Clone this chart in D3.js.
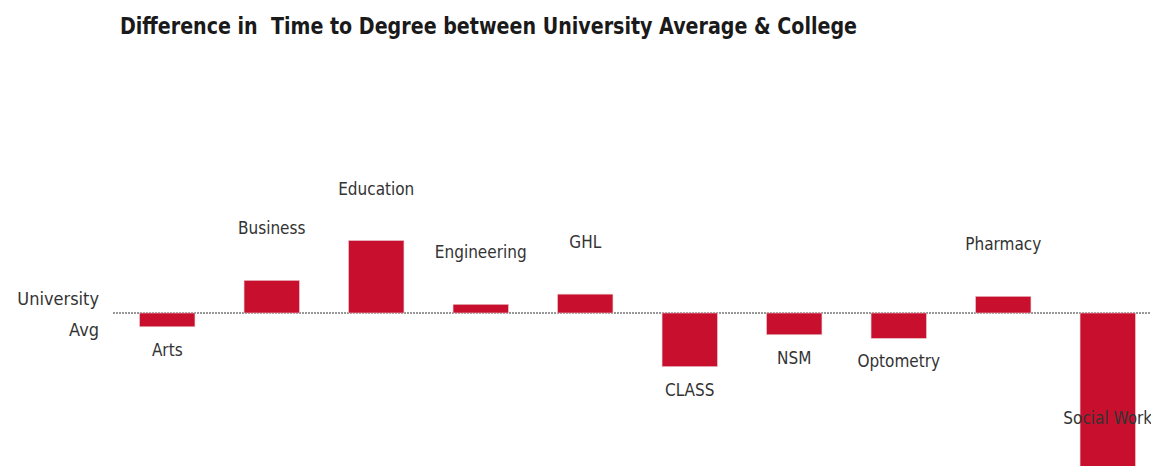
<!DOCTYPE html>
<html>
<head>
<meta charset="utf-8">
<script src="https://cdn.jsdelivr.net/npm/d3@7"></script>
<style>
  body { margin: 0; background: #fff; }
  svg { display: block; }
  .title { font-family: "Liberation Sans Narrow", "DejaVu Sans Condensed", sans-serif; font-weight: bold; fill: #1a1a1a; white-space: pre; }
  .lbl { font-family: "Liberation Sans Narrow", "DejaVu Sans Condensed", sans-serif; fill: #333; }
</style>
</head>
<body>
<svg id="chart" width="1151" height="466"></svg>
<script>
// colleges in display order
const colleges = ['Arts', 'Business', 'Education', 'Engineering', 'GHL',
  'CLASS', 'NSM', 'Optometry', 'Pharmacy', 'Social Work']
// difference from university average (years, estimated)
const diffs = [-0.19, 0.45, 1.0, 0.12, 0.26, -0.74, -0.30, -0.35, 0.23, -2.4]
const titleText = 'Difference in  Time to Degree between University Average & College'
const axisLabel = ['University', 'Avg']

const width = 1151, height = 466
const svg = d3.select('#chart')

const xScale = d3.scaleBand()
  .domain(colleges)
  .range([115, 1160])
  .paddingInner(0.47)
  .paddingOuter(0.235)

const yScale = d3.scaleLinear()
  .domain([-2.12, 1.0])
  .range([466.7, 240.5])

const y0 = yScale(0)

svg.append('text')
  .attr('class', 'title')
  .attr('x', 120)
  .attr('y', 34)
  .attr('textLength', 737)
  .attr('lengthAdjust', 'spacingAndGlyphs')
  .style('font-size', '23px')
  .text(titleText)

// reference line at the university average
svg.append('line')
  .attr('x1', 113).attr('x2', width)
  .attr('y1', y0).attr('y2', y0)
  .attr('stroke', '#777')
  .attr('stroke-width', 1.3)
  .attr('stroke-dasharray', '2,1')

svg.selectAll('.avg-label')
  .data(axisLabel)
  .join('text')
  .attr('class', 'lbl avg-label')
  .attr('x', 99)
  .attr('y', (d, i) => 305 + i * 31)
  .attr('text-anchor', 'end')
  .style('font-size', '18px')
  .text(d => d)

const data = colleges.map((c, i) => ({ college: c, value: diffs[i] }))

svg.selectAll('.bar')
  .data(data)
  .join('rect')
  .attr('class', 'bar')
  .attr('x', d => xScale(d.college))
  .attr('width', xScale.bandwidth())
  .attr('y', d => Math.min(yScale(d.value), y0))
  .attr('height', d => Math.abs(yScale(d.value) - y0))
  .attr('fill', '#c8102e')
  .attr('stroke', '#e8c8cc')
  .attr('stroke-width', 0.6)

svg.selectAll('.bar-label')
  .data(data)
  .join('text')
  .attr('class', 'lbl bar-label')
  .attr('x', d => xScale(d.college) + xScale.bandwidth() / 2)
  .attr('y', d => d.value >= 0
    ? yScale(d.value) - 46
    : Math.min(yScale(d.value) + 29, 424))
  .attr('text-anchor', 'middle')
  .style('font-size', '17px')
  .text(d => d.college)
</script>
</body>
</html>
